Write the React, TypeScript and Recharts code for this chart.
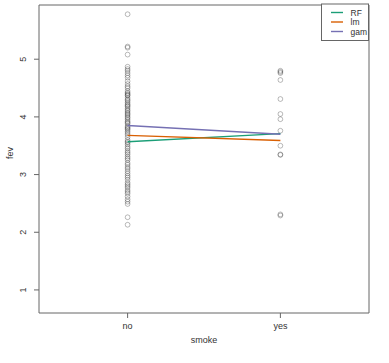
import React from "react";
import {
  ScatterChart,
  Scatter,
  XAxis,
  YAxis,
  ReferenceArea,
} from "recharts";

const categories = ["no", "yes"];

const fevNo = [
  5.78, 5.22, 5.2, 5.08, 4.87, 4.83, 4.8, 4.76, 4.72, 4.68, 4.62, 4.57, 4.53,
  4.5, 4.45, 4.42, 4.4, 4.38, 4.37, 4.33, 4.3, 4.28, 4.25, 4.22, 4.2, 4.18,
  4.15, 4.12, 4.1, 4.07, 4.05, 4.03, 4.0, 3.98, 3.95, 3.92, 3.9, 3.88, 3.84,
  3.82, 3.8, 3.78, 3.75, 3.72, 3.69, 3.65, 3.6, 3.57, 3.55, 3.52, 3.48, 3.45,
  3.41, 3.38, 3.35, 3.31, 3.28, 3.25, 3.2, 3.17, 3.13, 3.1, 3.06, 3.02, 2.98,
  2.95, 2.91, 2.86, 2.83, 2.8, 2.77, 2.73, 2.7, 2.67, 2.62, 2.57, 2.53, 2.49,
  2.26, 2.13,
];
const fevYes = [4.8, 4.78, 4.76, 4.64, 4.31, 4.05, 3.96, 3.76, 3.5, 3.35, 3.34, 2.31, 2.29];

const rfFit = [3.57, 3.71];
const lmFit = [3.68, 3.59];
const gamFit = [3.85, 3.7];

const yTicks = [1, 2, 3, 4, 5];

const models = [
  { name: "RF", values: rfFit, color: "#1B9E77" },
  { name: "lm", values: lmFit, color: "#D95F02" },
  { name: "gam", values: gamFit, color: "#7570B3" },
];

const pointData = [
  ...fevNo.map((y) => ({ x: 1, y })),
  ...fevYes.map((y) => ({ x: 2, y })),
];

const FONT = "'Liberation Sans', Arial, sans-serif";
const INK = "#333";

function Ring(props: any) {
  const { cx, cy } = props;
  return (
    <circle cx={cx} cy={cy} r={2.4} fill="none" stroke="#000" strokeOpacity={0.3} strokeWidth={0.9} />
  );
}

function NoShape() {
  return <g />;
}

function XTick(props: any) {
  const { x, y, payload } = props;
  return (
    <text x={x} y={y + 9} textAnchor="middle" fontSize={9} fill={INK} fontFamily={FONT}>
      {categories[payload.value - 1]}
    </text>
  );
}

function YTick(props: any) {
  const { x, y, payload } = props;
  const tx = x - 6;
  return (
    <text x={tx} y={y} transform={`rotate(-90 ${tx} ${y})`} textAnchor="middle" fontSize={9} fill={INK} fontFamily={FONT}>
      {payload.value}
    </text>
  );
}

export default function App() {
  return (
    <div style={{ position: "absolute", left: 0, top: 0, width: 389, height: 363, background: "#fff" }}>
      <ScatterChart width={389} height={363} margin={{ top: 5, right: 20, bottom: 22, left: 10 }}>
        <XAxis
          type="number"
          dataKey="x"
          domain={[0.42, 2.58]}
          ticks={[1, 2]}
          axisLine={false}
          tickLine={{ stroke: "#666" }}
          tickSize={5}
          height={28}
          tick={<XTick />}
          allowDataOverflow
          label={{ value: "smoke", position: "insideBottom", offset: -2, fontSize: 9, fill: INK, fontFamily: FONT }}
        />
        <YAxis
          type="number"
          dataKey="y"
          domain={[0.6, 5.94]}
          ticks={yTicks}
          axisLine={false}
          tickLine={{ stroke: "#666" }}
          tickSize={5}
          width={29}
          tick={<YTick />}
          allowDataOverflow
          label={{ value: "fev", angle: -90, position: "insideLeft", offset: 0, fontSize: 9, fill: INK, fontFamily: FONT }}
        />
        <ReferenceArea x1={0.42} x2={2.58} y1={0.6} y2={5.94} fill="none" stroke="#666" strokeWidth={1} ifOverflow="visible" />
        <Scatter data={pointData} shape={<Ring />} isAnimationActive={false} />
        {models.map((m) => (
          <Scatter
            key={m.name}
            name={m.name}
            data={m.values.map((y, i) => ({ x: i + 1, y }))}
            line={{ stroke: m.color, strokeWidth: 1.4 }}
            shape={<NoShape />}
            isAnimationActive={false}
          />
        ))}
      </ScatterChart>
      <svg
        width={48}
        height={37}
        style={{ position: "absolute", left: 321, top: 5, overflow: "visible" }}
      >
        <rect x={0.5} y={-1} width={47} height={36.5} fill="#fff" stroke="#666" strokeWidth={1} />
        {models.map((m, i) => (
          <g key={m.name}>
            <line x1={10} x2={22} y1={7.5 + i * 9.5} y2={7.5 + i * 9.5} stroke={m.color} strokeWidth={1.4} />
            <text x={29.5} y={10.5 + i * 9.5} fontSize={8.5} fill={INK} fontFamily={FONT}>
              {m.name}
            </text>
          </g>
        ))}
      </svg>
    </div>
  );
}
